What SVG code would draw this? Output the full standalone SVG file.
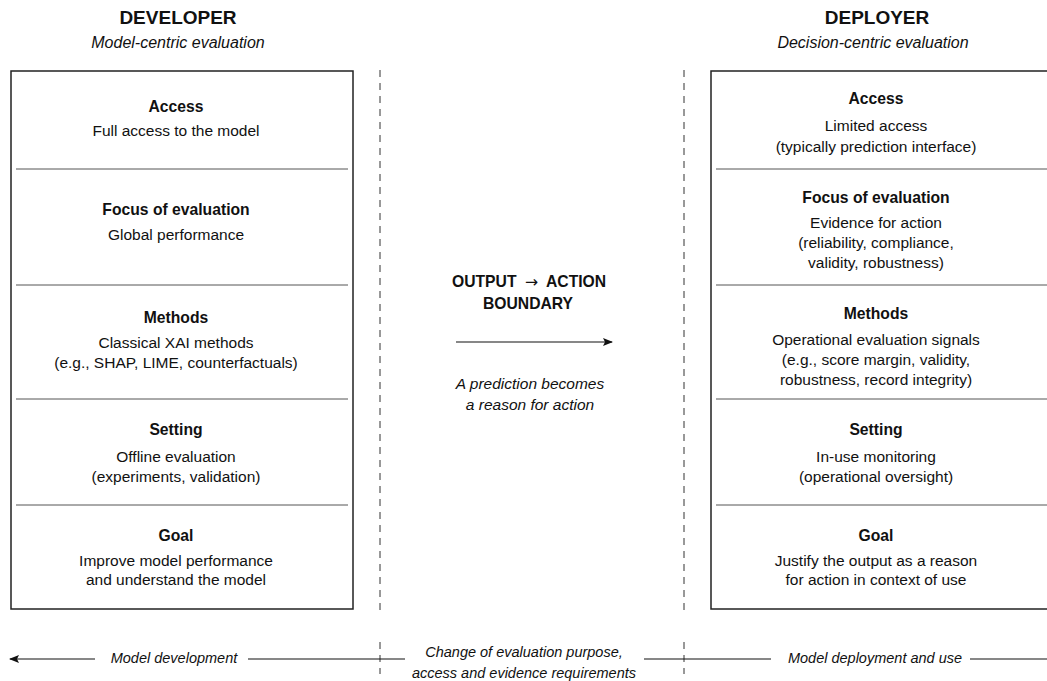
<svg xmlns="http://www.w3.org/2000/svg" width="1047" height="681" viewBox="0 0 1047 681">
<defs>
<marker id="ah" viewBox="0 0 10 10" refX="9" refY="5" markerWidth="10" markerHeight="10" markerUnits="userSpaceOnUse" orient="auto-start-reverse">
<path d="M0,1 L10,5 L0,9 L2,5 Z" fill="#111"/>
</marker>
<style>
text{font-family:"Liberation Sans",Arial,sans-serif;fill:#111;text-anchor:middle}
.h{font-size:19px;font-weight:bold}
.sub{font-size:16px;font-style:italic}
.t{font-size:15.7px;font-weight:bold}
.b{font-size:15.5px}
.it{font-size:14.5px;font-style:italic}
.itc{font-size:15.5px;font-style:italic}
.arr{font-family:"DejaVu Sans",sans-serif;font-weight:normal}
.box{fill:#fff;stroke:#222;stroke-width:1.5}
.div{stroke:#555;stroke-width:1}
.dash{stroke:#333;stroke-width:1;stroke-dasharray:7 6;fill:none}
.ln{stroke:#111;stroke-width:1.2;fill:none}
</style>
</defs>
<rect width="1047" height="681" fill="#fff"/>

<g id="developer-header">
<text class="h" x="178" y="24">DEVELOPER</text>
<text class="sub" x="178" y="48">Model-centric evaluation</text>
</g>
<g id="deployer-header">
<text class="h" x="877" y="24">DEPLOYER</text>
<text class="sub" x="873" y="48">Decision-centric evaluation</text>
</g>

<g id="developer-box">
<rect class="box" x="11" y="71" width="342" height="538"/>
<line class="div" x1="16" y1="169" x2="348" y2="169"/>
<line class="div" x1="16" y1="285" x2="348" y2="285"/>
<line class="div" x1="16" y1="399" x2="348" y2="399"/>
<line class="div" x1="16" y1="505" x2="348" y2="505"/>
<text class="t" x="176" y="112">Access</text>
<text class="b" x="176" y="136">Full access to the model</text>
<text class="t" x="176" y="215">Focus of evaluation</text>
<text class="b" x="176" y="240">Global performance</text>
<text class="t" x="176" y="323">Methods</text>
<text class="b" x="176" y="348">Classical XAI methods</text>
<text class="b" x="176" y="368">(e.g., SHAP, LIME, counterfactuals)</text>
<text class="t" x="176" y="435">Setting</text>
<text class="b" x="176" y="462">Offline evaluation</text>
<text class="b" x="176" y="482">(experiments, validation)</text>
<text class="t" x="176" y="541">Goal</text>
<text class="b" x="176" y="566">Improve model performance</text>
<text class="b" x="176" y="585">and understand the model</text>
</g>

<g id="deployer-box">
<rect class="box" x="711" y="71" width="342" height="538"/>
<line class="div" x1="716" y1="169" x2="1048" y2="169"/>
<line class="div" x1="716" y1="285" x2="1048" y2="285"/>
<line class="div" x1="716" y1="399" x2="1048" y2="399"/>
<line class="div" x1="716" y1="505" x2="1048" y2="505"/>
<text class="t" x="876" y="104">Access</text>
<text class="b" x="876" y="131">Limited access</text>
<text class="b" x="876" y="152">(typically prediction interface)</text>
<text class="t" x="876" y="203">Focus of evaluation</text>
<text class="b" x="876" y="228">Evidence for action</text>
<text class="b" x="876" y="248">(reliability, compliance,</text>
<text class="b" x="876" y="268">validity, robustness)</text>
<text class="t" x="876" y="319">Methods</text>
<text class="b" x="876" y="345">Operational evaluation signals</text>
<text class="b" x="876" y="365">(e.g., score margin, validity,</text>
<text class="b" x="876" y="385">robustness, record integrity)</text>
<text class="t" x="876" y="435">Setting</text>
<text class="b" x="876" y="462">In-use monitoring</text>
<text class="b" x="876" y="482">(operational oversight)</text>
<text class="t" x="876" y="541">Goal</text>
<text class="b" x="876" y="566">Justify the output as a reason</text>
<text class="b" x="876" y="585">for action in context of use</text>
</g>

<g id="boundary">
<text class="t" x="452" y="287" style="text-anchor:start">OUTPUT<tspan class="arr" x="525">→</tspan><tspan x="546">ACTION</tspan></text>
<text class="t" x="528" y="309">BOUNDARY</text>
<text class="itc" x="530" y="389">A prediction becomes</text>
<text class="itc" x="530" y="410">a reason for action</text>
</g>

<g id="bottom-labels">
<text class="it" x="174" y="663">Model development</text>
<text class="it" x="524" y="657">Change of evaluation purpose,</text>
<text class="it" x="524" y="678">access and evidence requirements</text>
<text class="it" x="875" y="663">Model deployment and use</text>
</g>

<g id="connectors">
<line class="dash" x1="380" y1="70" x2="380" y2="610"/>
<line class="dash" x1="684" y1="70" x2="684" y2="610"/>
<line class="dash" x1="380" y1="642" x2="380" y2="674"/>
<line class="dash" x1="684" y1="642" x2="684" y2="674"/>
<line class="ln" x1="456" y1="342" x2="612" y2="342" marker-end="url(#ah)"/>
<line class="ln" x1="95" y1="659" x2="10" y2="659" marker-end="url(#ah)"/>
<line class="ln" x1="248" y1="659" x2="405" y2="659"/>
<line class="ln" x1="644" y1="659" x2="771" y2="659"/>
<line class="ln" x1="970" y1="659" x2="1047" y2="659"/>
</g>
</svg>
